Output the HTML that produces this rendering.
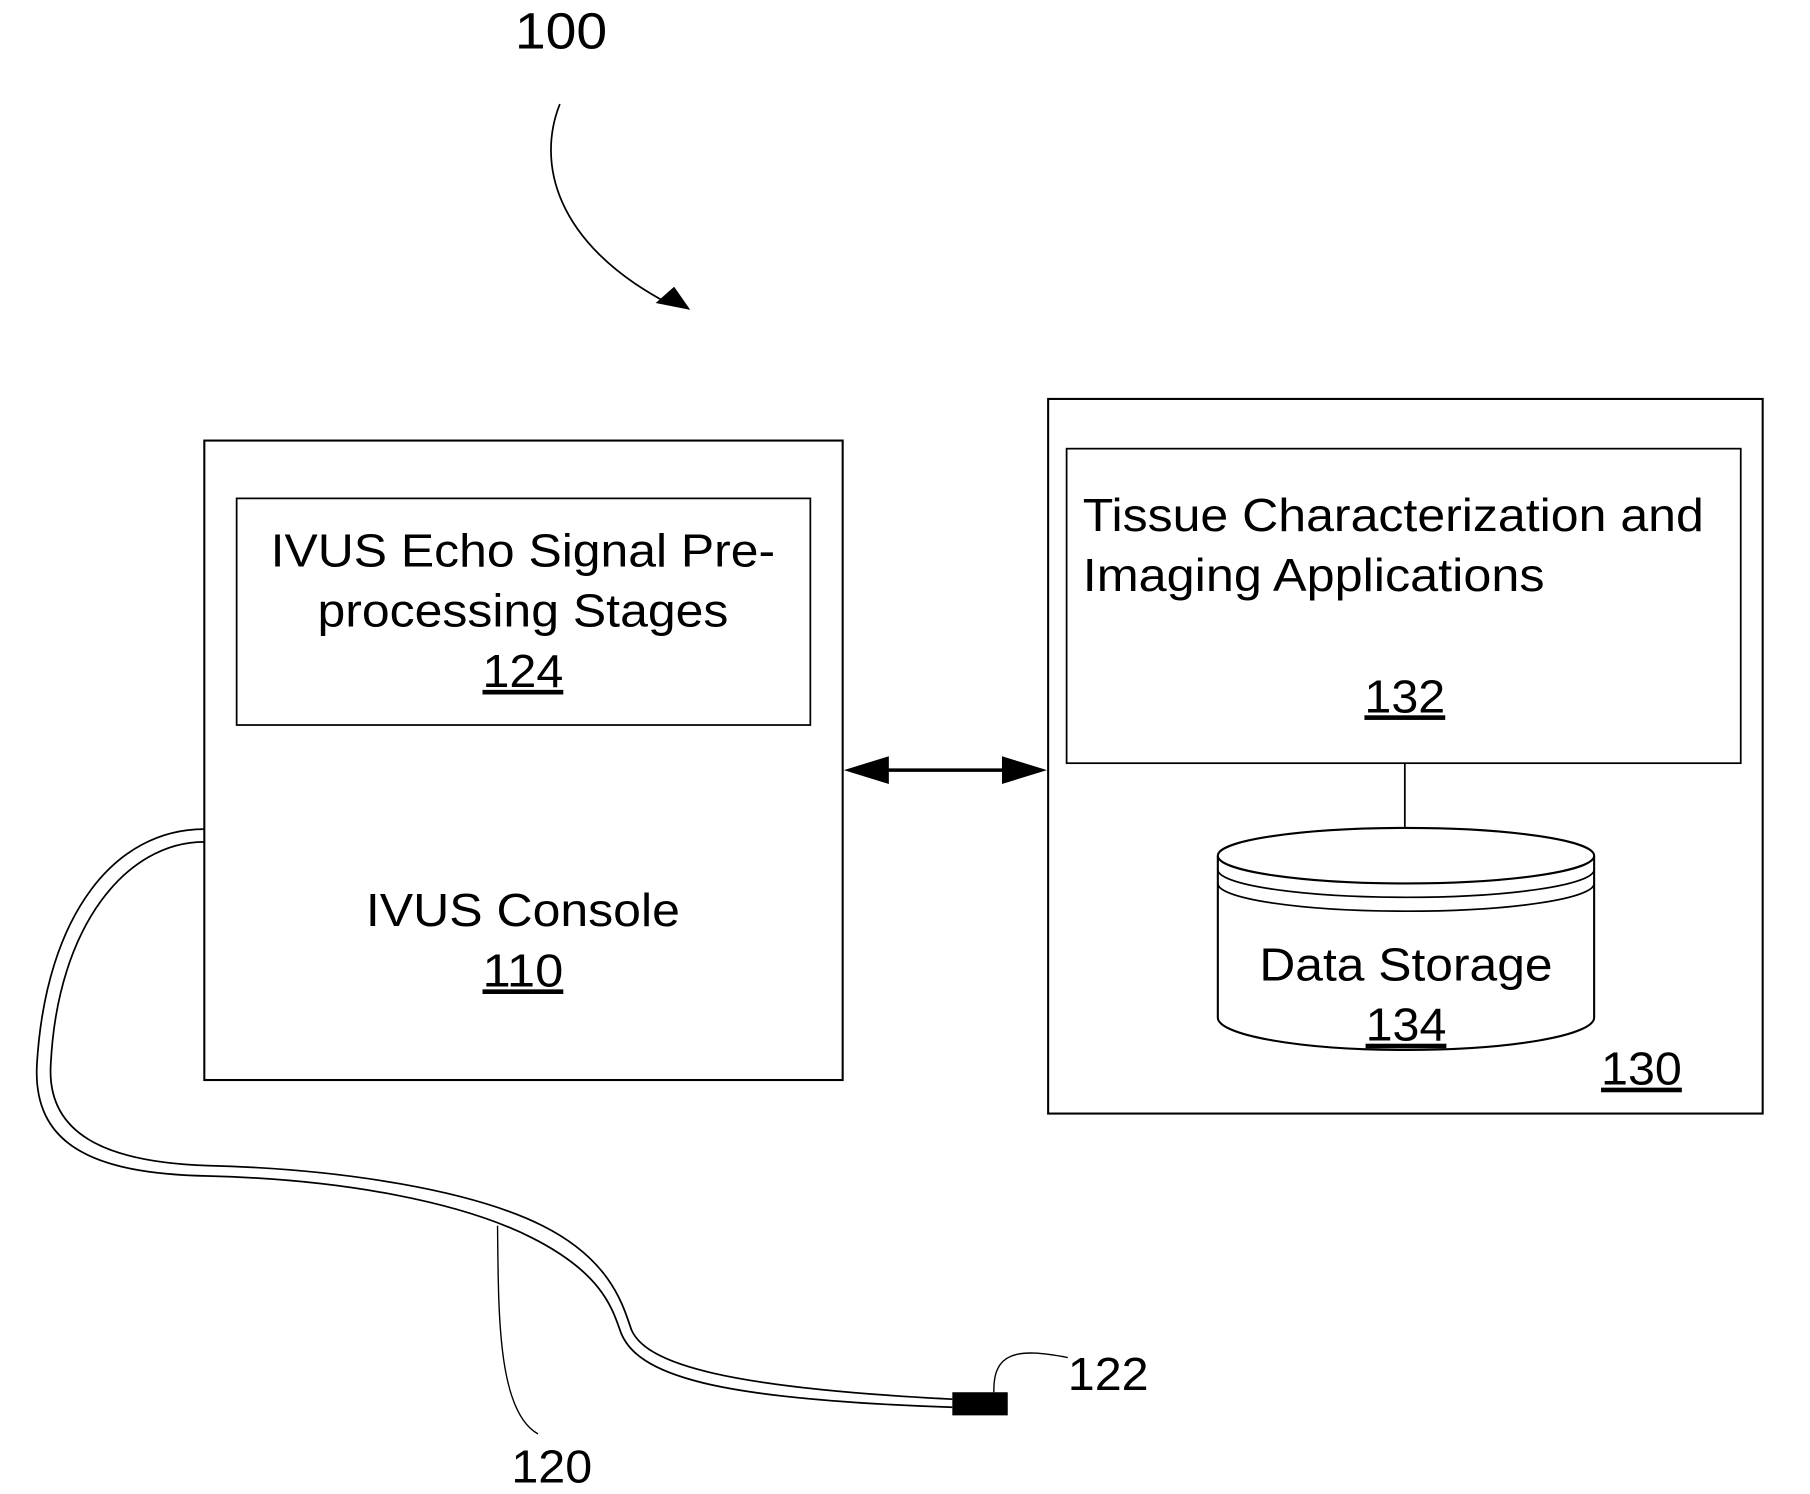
<!DOCTYPE html>
<html><head><meta charset="utf-8"><style>html,body{margin:0;padding:0;background:#fff}svg{display:block}</style></head>
<body>
<svg width="1810" height="1494" viewBox="0 0 1568 1292" preserveAspectRatio="none" xmlns="http://www.w3.org/2000/svg" font-family="Liberation Sans, Arial, sans-serif" fill="none" stroke="#000">
<text x="486" y="42" font-size="44" fill="#000" stroke="none" text-anchor="middle" textLength="80" lengthAdjust="spacingAndGlyphs">100</text>
<path d="M485 90 C465 140 480 210 578 262" stroke-width="1.5"/>
<polygon points="598,268 568,262 584,248" fill="#000" stroke="none"/>
<rect x="177" y="381" width="553" height="553" stroke-width="1.8"/>
<rect x="205" y="431" width="497" height="196" stroke-width="1.5"/>
<g fill="#000" stroke="none" font-size="40" text-anchor="middle" lengthAdjust="spacingAndGlyphs">
<text x="453" y="490" textLength="437" lengthAdjust="spacingAndGlyphs">IVUS Echo Signal Pre-</text>
<text x="453" y="542" textLength="356" lengthAdjust="spacingAndGlyphs">processing Stages</text>
<text x="453" y="594" text-decoration="underline" textLength="70" lengthAdjust="spacingAndGlyphs">124</text>
<text x="453" y="801" textLength="272" lengthAdjust="spacingAndGlyphs">IVUS Console</text>
<text x="453" y="853" text-decoration="underline" textLength="70" lengthAdjust="spacingAndGlyphs">110</text>
</g>
<rect x="908" y="345" width="619" height="618" stroke-width="1.8"/>
<rect x="924" y="388" width="584" height="272" stroke-width="1.5"/>
<g fill="#000" stroke="none" font-size="40">
<text x="938" y="459" textLength="538" lengthAdjust="spacingAndGlyphs">Tissue Characterization and</text>
<text x="938" y="511" textLength="400" lengthAdjust="spacingAndGlyphs">Imaging Applications</text>
<text x="1217" y="616" text-anchor="middle" text-decoration="underline" textLength="70" lengthAdjust="spacingAndGlyphs">132</text>
<text x="1422" y="938" text-anchor="middle" text-decoration="underline" textLength="70" lengthAdjust="spacingAndGlyphs">130</text>
</g>
<line x1="1217" y1="660" x2="1217" y2="716" stroke-width="1.5"/>
<path d="M1055 740 L1055 880 A163 28 0 0 0 1381 880 L1381 740" fill="#fff" stroke-width="1.8"/>
<ellipse cx="1218" cy="740" rx="163" ry="24" fill="#fff" stroke-width="1.8"/>
<path d="M1055 752 A163 24 0 0 0 1381 752 M1055 764 A163 24 0 0 0 1381 764" stroke-width="1.5"/>
<g fill="#000" stroke="none" font-size="40" text-anchor="middle">
<text x="1218" y="848" textLength="254" lengthAdjust="spacingAndGlyphs">Data Storage</text>
<text x="1218" y="900" text-decoration="underline" textLength="70" lengthAdjust="spacingAndGlyphs">134</text>
</g>
<line x1="760" y1="666" x2="878" y2="666" stroke-width="3"/>
<polygon points="731,666 770,654 770,678" fill="#000" stroke="none"/>
<polygon points="907,666 868,654 868,678" fill="#000" stroke="none"/>
<path d="M177 717 C100 717 40 790 32 920 C28 990 80 1015 180 1017 C300 1020 400 1040 460 1070 C520 1100 530 1130 537 1150 C550 1190 620 1210 825 1217" stroke-width="1.5"/>
<path d="M177 728 C110 728 50 800 44 920 C40 980 90 1005 180 1008 C300 1011 410 1030 470 1060 C530 1090 540 1130 547 1150 C560 1180 630 1200 825 1210" stroke-width="1.5"/>
<rect x="825" y="1204" width="48" height="20" fill="#000" stroke="none"/>
<path d="M861 1204 C860 1170 880 1165 925 1174" stroke-width="1.2"/>
<text x="960" y="1202" font-size="40" fill="#000" stroke="none" text-anchor="middle" textLength="70" lengthAdjust="spacingAndGlyphs">122</text>
<path d="M431 1060 C432 1130 430 1220 466 1240" stroke-width="1.2"/>
<text x="478" y="1282" font-size="40" fill="#000" stroke="none" text-anchor="middle" textLength="70" lengthAdjust="spacingAndGlyphs">120</text>
</svg>
</body></html>
